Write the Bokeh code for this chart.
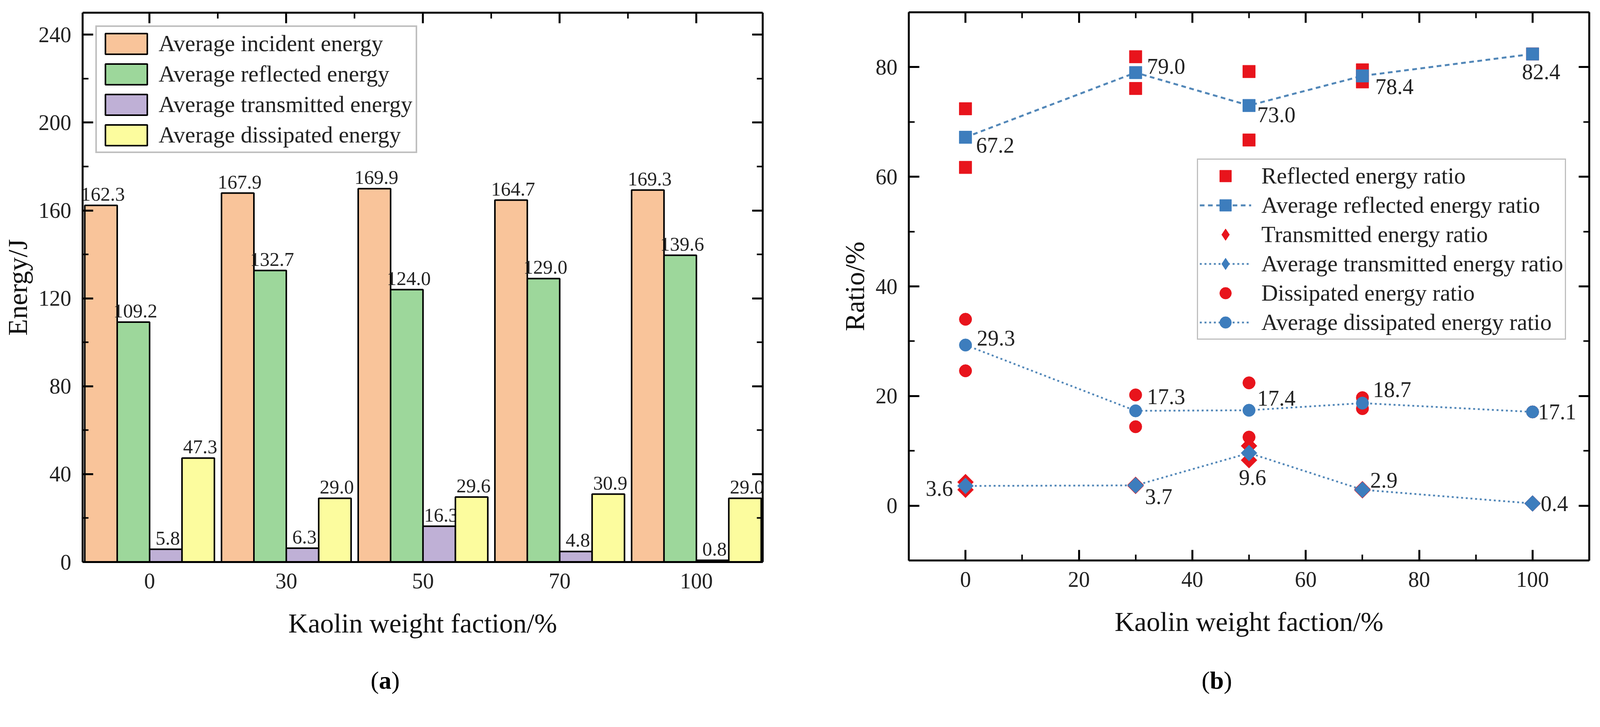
import math
from bokeh.plotting import figure
from bokeh.models import (Legend, LegendItem, LinearAxis, FixedTicker, Div,
                          SingleIntervalTicker, Range1d, CustomJSTickFormatter)
from bokeh.layouts import row, column
from bokeh.embed import file_html
from bokeh.resources import INLINE

FONT = "Liberation Serif"

# (a) average energies per kaolin fraction, J
fractions = ["0", "30", "50", "70", "100"]
incident = [162.3, 167.9, 169.9, 164.7, 169.3]
reflected = [109.2, 132.7, 124.0, 129.0, 139.6]
transmitted = [5.8, 6.3, 16.3, 4.8, 0.8]
dissipated = [47.3, 29.0, 29.6, 30.9, 29.0]
energy_names = ["Average incident energy", "Average reflected energy",
                "Average transmitted energy", "Average dissipated energy"]

# (b) energy ratios, %
kaolin = [0, 30, 50, 70, 100]
sample_x = [0, 0, 30, 30, 50, 50, 70, 70, 100]
refl_ratio = [72.4, 61.7, 81.9, 76.1, 79.2, 66.7, 79.5, 77.3, 82.4]
trans_ratio = [4.3, 2.9, 3.8, 3.6, 10.9, 8.3, 3.0, 2.8, 0.4]
diss_ratio = [34.0, 24.6, 20.2, 14.4, 22.4, 12.5, 19.7, 17.7, 17.1]
avg_refl = [67.2, 79.0, 73.0, 78.4, 82.4]
avg_trans = [3.6, 3.7, 9.6, 2.9, 0.4]
avg_diss = [29.3, 17.3, 17.4, 18.7, 17.1]

bar_colors = ["#f9c49a", "#9dd79b", "#bfb0d6", "#fcfc9e"]
RED = "#e8141c"
BLUE = "#3d7dbd"
LINE_BLUE = "#5287b8"

# label placement (dx, dy in px, align) for panel (b)
refl_lab = [(27, 20, "left"), (29, -16, "left"), (21, 24, "left"), (33, 28, "left"), (-27, 46, "left")]
trans_lab = [(-32, 6, "right"), (24, 29, "left"), (9, 63, "center"), (20, -24, "left"), (21, 1, "left")]
diss_lab = [(29, -18, "left"), (29, -36, "left"), (21, -31, "left"), (27, -35, "left"), (14, 0, "left")]


def style_axis(ax, major_in=27, minor_in=15, hide_labels=False):
    ax.axis_line_width = 5
    ax.axis_line_color = "black"
    ax.major_tick_line_width = 5
    ax.minor_tick_line_width = 4
    ax.major_tick_in = major_in
    ax.major_tick_out = 0
    ax.minor_tick_in = minor_in
    ax.minor_tick_out = 0
    ax.major_label_text_font = FONT
    ax.major_label_text_font_size = "56px"
    ax.major_label_text_color = "#222222"
    ax.major_label_standoff = 29
    ax.axis_label_text_font = FONT
    ax.axis_label_text_font_size = "70px"
    ax.axis_label_text_font_style = "normal"
    ax.axis_label_text_color = "#111111"
    ax.axis_label_standoff = 12
    if hide_labels:
        ax.formatter = CustomJSTickFormatter(code="return ''")
        ax.major_label_standoff = 0


def mirror(p, ticker, place, major_in=27, minor_in=15):
    ax = LinearAxis(ticker=ticker)
    style_axis(ax, major_in, minor_in, hide_labels=True)
    p.add_layout(ax, place)


def caption(letter, width, shift):
    html = ('<div style="width:%dpx; text-align:center; transform:translateX(%dpx); '
            'font-family:\'Liberation Serif\'; font-size:64px; line-height:80px; color:black;">'
            '(<b>%s</b>)</div>' % (width, shift, letter))
    return Div(text=html, width=width, height=80)


# ---------------- (a) bar chart ----------------
pa = figure(frame_width=1741, frame_height=1407, min_border_left=211, min_border_right=114,
            min_border_top=32, min_border_bottom=259, x_range=Range1d(-0.49, 4.485),
            y_range=Range1d(0, 250), toolbar_location=None, tools="", output_backend="svg",
            background_fill_color="white", border_fill_color="white")
pa.outline_line_color = None
pa.grid.visible = False

xticker = FixedTicker(ticks=[0, 1, 2, 3, 4], minor_ticks=[0.5, 1.5, 2.5, 3.5])
yticker = SingleIntervalTicker(interval=40, num_minor_ticks=2)
pa.xaxis.ticker = xticker
pa.xaxis.major_label_overrides = {i: f for i, f in enumerate(fractions)}
pa.yaxis.ticker = yticker
pa.xaxis.axis_label = "Kaolin weight faction/%"
pa.yaxis.axis_label = "Energy/J"
style_axis(pa.xaxis[0], major_in=0, minor_in=0)
style_axis(pa.yaxis[0])
pa.xaxis.axis_label_standoff = 48
mirror(pa, xticker, "above")
mirror(pa, yticker, "right")

bar_w = 0.237
offsets = [-1.5 * bar_w, -0.5 * bar_w, 0.5 * bar_w, 1.5 * bar_w]
items = []
for j, series in enumerate([incident, reflected, transmitted, dissipated]):
    xs = [i + offsets[j] for i in range(len(fractions))]
    r = pa.vbar(x=xs, top=series, width=bar_w, fill_color=bar_colors[j],
                line_color="black", line_width=4)
    items.append(LegendItem(label=energy_names[j], renderers=[r]))
    pa.text(x=xs, y=series, text=[f"{v:.1f}" for v in series], text_font=FONT,
            text_font_size="50px", text_align="center", text_baseline="bottom",
            x_offset=5, y_offset=-12, text_color="#222222")

leg_a = Legend(items=items, location="top_left", margin=33, glyph_width=134, glyph_height=66,
               spacing=9, padding=8, label_standoff=16, label_text_font=FONT,
               label_text_font_size="59px", label_text_color="#222222",
               border_line_color="#808080", border_line_width=4,
               background_fill_color="white", background_fill_alpha=1.0)
pa.add_layout(leg_a)

# ---------------- (b) ratio chart ----------------
pb = figure(frame_width=1742, frame_height=1404, min_border_left=250, min_border_right=12,
            min_border_top=31, min_border_bottom=263, x_range=Range1d(-10, 110),
            y_range=Range1d(-10, 90), toolbar_location=None, tools="", output_backend="svg",
            background_fill_color="white", border_fill_color="white")
pb.outline_line_color = None
pb.grid.visible = False

bx = SingleIntervalTicker(interval=20, num_minor_ticks=2)
by = SingleIntervalTicker(interval=20, num_minor_ticks=2)
pb.xaxis.ticker = bx
pb.yaxis.ticker = by
pb.xaxis.axis_label = "Kaolin weight faction/%"
pb.yaxis.axis_label = "Ratio/%"
style_axis(pb.xaxis[0])
style_axis(pb.yaxis[0])
pb.xaxis.axis_label_standoff = 48
mirror(pb, bx, "above")
mirror(pb, by, "right")

r_refl = pb.scatter(sample_x, refl_ratio, marker="square", size=32, color=RED)
pb.scatter(sample_x, trans_ratio, marker="square", angle=math.pi / 4, size=29, color=RED)
r_diss = pb.scatter(sample_x, diss_ratio, marker="circle", size=32, color=RED)

l_refl = pb.line(kaolin, avg_refl, line_color=LINE_BLUE, line_width=5, line_dash="12 9")
s_refl = pb.scatter(kaolin, avg_refl, marker="square", size=32, color=BLUE)
l_trans = pb.line(kaolin, avg_trans, line_color=LINE_BLUE, line_width=4.5, line_dash="5 7")
pb.scatter(kaolin, avg_trans, marker="square", angle=math.pi / 4, size=29, color=BLUE)
l_diss = pb.line(kaolin, avg_diss, line_color=LINE_BLUE, line_width=4.5, line_dash="5 7")
s_diss = pb.scatter(kaolin, avg_diss, marker="circle", size=32, color=BLUE)

# legend-only diamonds, parked outside the visible ranges (legend glyphs ignore rotation)
k_trans = pb.scatter(x=[-1000], y=[-1000], marker="diamond", size=43, color=RED)
k_avg_trans = pb.scatter(x=[-1000], y=[-1000], marker="diamond", size=43, color=BLUE)

for vals, place in [(avg_refl, refl_lab), (avg_trans, trans_lab), (avg_diss, diss_lab)]:
    for align in ["left", "right", "center"]:
        idx = [i for i, pl in enumerate(place) if pl[2] == align]
        if not idx:
            continue
        pb.text(x=[kaolin[i] for i in idx], y=[vals[i] for i in idx],
                text=[f"{vals[i]:.1f}" for i in idx],
                x_offset=[place[i][0] for i in idx], y_offset=[place[i][1] for i in idx],
                text_font=FONT, text_font_size="56px", text_align=align,
                text_baseline="middle", text_color="#222222")

leg_b = Legend(items=[
    LegendItem(label="Reflected energy ratio", renderers=[r_refl]),
    LegendItem(label="Average reflected energy ratio", renderers=[l_refl, s_refl]),
    LegendItem(label="Transmitted energy ratio", renderers=[k_trans]),
    LegendItem(label="Average transmitted energy ratio", renderers=[l_trans, k_avg_trans]),
    LegendItem(label="Dissipated energy ratio", renderers=[r_diss]),
    LegendItem(label="Average dissipated energy ratio", renderers=[l_diss, s_diss]),
], location=(738, 565), glyph_width=132, glyph_height=75, spacing=0, padding=4,
    label_standoff=26, label_text_font=FONT, label_text_font_size="59px",
    label_text_color="#222222", border_line_color="#808080", border_line_width=3,
    background_fill_color="white", background_fill_alpha=1.0)
pb.add_layout(leg_b)

wa = 211 + 1741 + 114
wb = 250 + 1742 + 12
layout = row(column(pa, caption("a", wa, -52)), column(pb, caption("b", wb, 32)))
open("out.html", "w").write(file_html(layout, INLINE))
